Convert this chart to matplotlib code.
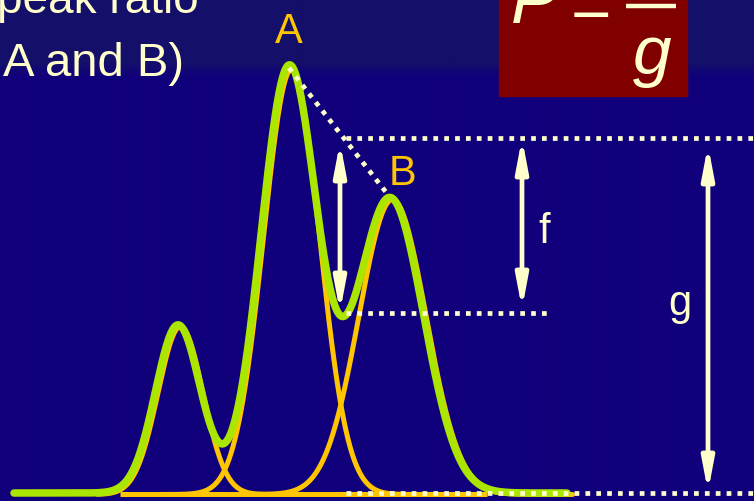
import numpy as np
import matplotlib
matplotlib.use("Agg")
import matplotlib.pyplot as plt

# ---- data (pixel-like units: x position, peak height above baseline) ----
peak_names = ["1", "A", "B"]
peak_centers = [178, 289, 390]
peak_heights = [168, 425, 295]
peak_sigmas = [22.5, 28, 33.5]
baseline = 493
total_range = [14, 567]
comp_ranges = [[95, 300], [150, 440], [250, 570]]

# levels used for the ratio construction
f_top_level = 138
valley_level = 313

plt.rcParams['font.family'] = ['Liberation Sans', 'DejaVu Sans']

W, H = 754, 501
fig = plt.figure(figsize=(W / 100, H / 100), dpi=100)
ax = fig.add_axes([0, 0, 1, 1])
ax.set_xlim(0, W)
ax.set_ylim(H, 0)
ax.axis('off')

# background with lighter title band
top = np.array([0x14, 0x10, 0x6A]) / 255
bot = np.array([0x10, 0x00, 0x7B]) / 255
yy = np.arange(H)
t = np.clip((yy - 62) / 14.0, 0, 1)[:, None]
grad = top[None, :] * (1 - t) + bot[None, :] * t
bg = np.repeat(grad[:, None, :], 2, axis=1)
ax.imshow(bg, extent=[0, W, H, 0], aspect='auto', zorder=0, interpolation='bilinear')

cream = '#FFFFCC'
orange = '#FFC600'
green = '#AAE600'


def gauss(x, c, h, s):
    return h * np.exp(-(x - c) ** 2 / (2 * s ** 2))

# component peaks (yellow)
for (c, h, s), (a, b) in zip(zip(peak_centers, peak_heights, peak_sigmas), comp_ranges):
    x = np.linspace(a, b, 600)
    ax.plot(x + 2.5, baseline - gauss(x, c, h, s) + 1.5, color=orange, lw=3.6,
            solid_capstyle='round', zorder=2)

# total (green)
x = np.linspace(total_range[0], total_range[1], 1500)
tot = sum(gauss(x, c, h, s) for c, h, s in zip(peak_centers, peak_heights, peak_sigmas))
ax.plot(x, baseline - tot, color=green, lw=5.4, solid_capstyle='round', zorder=3)
# yellow baseline shown over the middle
ax.plot([120, 487], [baseline + 1, baseline + 1], color=orange, lw=3.6, zorder=4,
        solid_capstyle='butt')

# dotted construction lines
dot = dict(color=cream, lw=3.4, ls=(0, (1, 1.3)), dash_capstyle='butt', zorder=5)
pA = (peak_centers[1], baseline - peak_heights[1])
pB = (peak_centers[2] - 1, baseline - peak_heights[2] - 2)
ax.plot([pA[0], pB[0]], [pA[1], pB[1]], **dot)
ax.plot([346, W], [f_top_level, f_top_level], **dot)
ax.plot([346, 550], [valley_level, valley_level], **dot)
ax.plot([346, W], [baseline, baseline], **dot)

# double arrows
def darrow(xp, y1, y2):
    ax.annotate('', xy=(xp, y1), xytext=(xp, y2),
                arrowprops=dict(arrowstyle='<|-|>,head_length=1.9,head_width=0.36',
                                mutation_scale=10, color=cream, lw=3.4,
                                shrinkA=0, shrinkB=0), zorder=6)

darrow(340, 142, 312)
darrow(522, 138, 309)
darrow(708, 145, 492)

# labels
ax.text(289, 43, 'A', color=orange, fontsize=30, ha='center', va='baseline', zorder=7)
ax.text(403, 185, 'B', color=orange, fontsize=30, ha='center', va='baseline', zorder=7)
ax.text(544, 243, 'f', color=cream, fontsize=30, ha='center', va='baseline', zorder=7)
ax.text(680, 315, 'g', color=cream, fontsize=30, ha='center', va='baseline', zorder=7)

# title fragments
ax.text(-3, 13, 'peak ratio', color=cream, fontsize=33, ha='left', va='baseline', zorder=7)
ax.text(3, 76, 'A and B)', color=cream, fontsize=34, ha='left', va='baseline', zorder=7)

# formula box
ax.add_patch(plt.Rectangle((499, -2), 188, 98, color='#800000', zorder=6))
ax.text(511, 23, 'P', color=cream, fontsize=50, style='italic', ha='left',
        va='baseline', zorder=7)
ax.text(591, 29, '=', color=cream, fontsize=50, ha='center', va='baseline', zorder=7)
ax.plot([626, 676], [5.5, 5.5], color=cream, lw=3.2, solid_capstyle='butt', zorder=7)
ax.text(652, 74, 'g', color=cream, fontsize=50, style='italic', ha='center',
        va='baseline', zorder=7)

fig.savefig('out.png', dpi=100)
